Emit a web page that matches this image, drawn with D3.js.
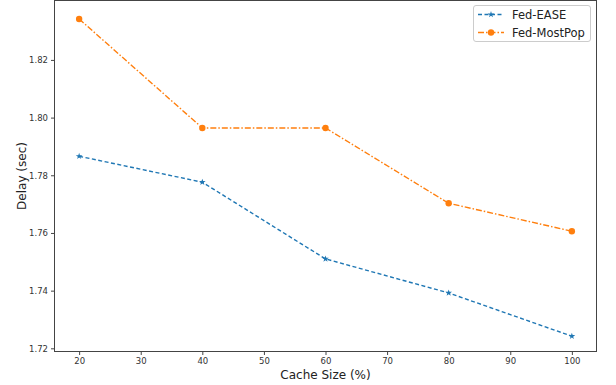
<!DOCTYPE html>
<html><head><meta charset="utf-8">
<script src="https://cdn.jsdelivr.net/npm/d3@7"></script>
<style>body{margin:0;background:#fff}svg{display:block}text{font-family:"DejaVu Sans",sans-serif}</style>
</head><body><svg id="c" width="616" height="385"></svg>
<script>
const cacheSizes = [20, 40, 60, 80, 100];
const fedEase = [1.7866, 1.7776, 1.7510, 1.7392, 1.7242];
const fedMostPop = [1.8342, 1.7964, 1.7964, 1.7703, 1.7606];
const xTicks = [20, 30, 40, 50, 60, 70, 80, 90, 100];
const yTicks = [1.72, 1.74, 1.76, 1.78, 1.80, 1.82];
const seriesNames = ["Fed-EASE", "Fed-MostPop"];
const colors = ["#1f77b4", "#ff7f0e"];

const svg = d3.select("#c");
const L = 54.5, R = 596.5, T = 0.5, B = 351.5;
const x = d3.scaleLinear().domain([16, 104]).range([L, R]);
const y = d3.scaleLinear().domain([1.7189, 1.8406]).range([B, T]);

svg.append("rect").attr("x", L).attr("y", T).attr("width", R - L).attr("height", B - T)
  .attr("fill", "none").attr("stroke", "#444").attr("stroke-width", 1);

const xAxis = svg.append("g").attr("transform", `translate(0,${B})`)
  .call(d3.axisBottom(x).tickValues(xTicks).tickSize(3.5).tickSizeOuter(0).tickPadding(3).tickFormat(d3.format("d")));
const yAxis = svg.append("g").attr("transform", `translate(${L},0)`)
  .call(d3.axisLeft(y).tickValues(yTicks).tickSize(3.5).tickSizeOuter(0).tickPadding(3).tickFormat(d3.format(".2f")));
[xAxis, yAxis].forEach(a => {
  a.select(".domain").remove();
  a.selectAll("line").attr("stroke", "#444");
  a.selectAll("text").attr("fill", "#333").style("font-size", "8.5px").style("font-family", "DejaVu Sans");
});

svg.append("text").attr("x", (L + R) / 2).attr("y", 379).attr("text-anchor", "middle")
  .style("font-size", "12px").attr("fill", "#222").text("Cache Size (%)");
svg.append("text").attr("transform", `translate(26,${(T + B) / 2}) rotate(-90)`).attr("text-anchor", "middle")
  .style("font-size", "12px").attr("fill", "#222").text("Delay (sec)");

const line = d3.line().x(d => x(d[0])).y(d => y(d[1]));
const series = [fedEase, fedMostPop];
const dashes = ["4,2.5", "6,2,1.5,2"];

series.forEach((vals, i) => {
  const pts = cacheSizes.map((c, j) => [c, vals[j]]);
  svg.append("path").datum(pts).attr("d", line).attr("fill", "none")
    .attr("stroke", colors[i]).attr("stroke-width", 1.4).attr("stroke-dasharray", dashes[i]);
  if (i === 0) {
    svg.selectAll(null).data(pts).enter().append("path")
      .attr("transform", d => `translate(${x(d[0])},${y(d[1])})`)
      .attr("d", d3.symbol(d3.symbolStar, 14)).attr("fill", colors[i]);
  } else {
    svg.selectAll(null).data(pts).enter().append("circle")
      .attr("cx", d => x(d[0])).attr("cy", d => y(d[1])).attr("r", 3.2).attr("fill", colors[i]);
  }
});

const lg = svg.append("g");
lg.append("rect").attr("x", 473.5).attr("y", 5.5).attr("width", 117).attr("height", 36).attr("rx", 2.5)
  .attr("fill", "#fff").attr("stroke", "#ccc");
seriesNames.forEach((n, i) => {
  const yy = 14.5 + i * 18;
  lg.append("line").attr("x1", 478).attr("x2", 504).attr("y1", yy).attr("y2", yy)
    .attr("stroke", colors[i]).attr("stroke-width", 1.5).attr("stroke-dasharray", dashes[i]);
  if (i === 0) lg.append("path").attr("transform", `translate(491,${yy})`).attr("d", d3.symbol(d3.symbolStar, 14)).attr("fill", colors[i]);
  else lg.append("circle").attr("cx", 491).attr("cy", yy).attr("r", 3.2).attr("fill", colors[i]);
  lg.append("text").attr("x", 512).attr("y", yy + 4).style("font-size", "11.5px").attr("fill", "#222").text(n);
});
</script></body></html>
